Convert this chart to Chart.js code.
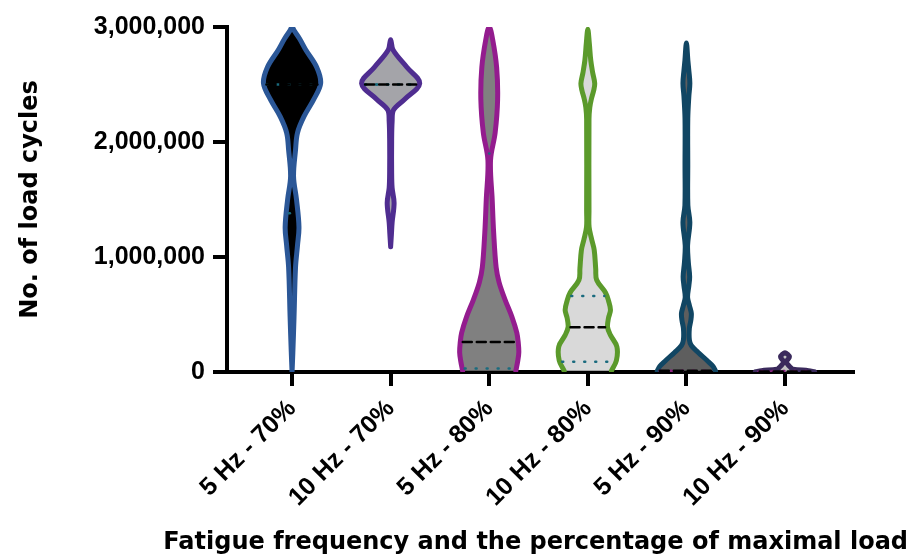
<!DOCTYPE html>
<html>
<head>
<meta charset="utf-8">
<script src="https://cdn.jsdelivr.net/npm/chart.js@4.4.1/dist/chart.umd.min.js"></script>
<style>
  html, body { margin: 0; padding: 0; background: #fff; }
  #wrap { width: 918px; height: 560px; }
</style>
</head>
<body>
<div id="wrap"><canvas id="chart" width="918" height="560"></canvas></div>
<script>
// categories and axis ticks
const categories = ["5 Hz - 70%", "10 Hz - 70%", "5 Hz - 80%", "10 Hz - 80%", "5 Hz - 90%", "10 Hz - 90%"]
const yTicks = [0, 1000000, 2000000, 3000000]

// violin outlines: load cycles and half width (% of category spacing)
const v1Values = [0, 170000, 480000, 910000, 1100000, 1260000, 1500000, 1700000, 1930000, 2080000, 2220000, 2370000, 2510000, 2650000, 2800000, 2900000, 2970000, 3000000]
const v1Widths = [0, 0.8, 2, 3.5, 5.5, 7, 4.5, 1.5, 3.5, 5.5, 12, 22, 29, 25, 14, 7.5, 2, 0]

const v2Values = [1090000, 1200000, 1300000, 1470000, 1600000, 1750000, 2000000, 2180000, 2280000, 2370000, 2510000, 2650000, 2800000, 2890000]
const v2Widths = [0, 0.8, 1.5, 3.5, 1.5, 1, 1, 1.5, 3, 14, 29.5, 16.5, 2.5, 0]

const v3Values = [10000, 100000, 170000, 250000, 340000, 480000, 630000, 780000, 910000, 1210000, 1500000, 1840000, 2080000, 2370000, 2650000, 2890000, 3000000]
const v3Widths = [27, 29, 30, 29.5, 28, 23, 16, 10, 7, 4.5, 3, 1.3, 6, 8.5, 7.5, 3.5, 0]

const v4Values = [10000, 100000, 220000, 320000, 390000, 470000, 540000, 620000, 690000, 800000, 900000, 1060000, 1150000, 1260000, 1400000, 2200000, 2300000, 2370000, 2450000, 2510000, 2600000, 2710000, 2860000, 2980000]
const v4Widths = [24, 29, 29.5, 23, 20, 21, 23, 21, 18, 9, 8, 6.5, 4, 1.3, 1.2, 1.2, 2, 3.5, 6, 7, 5, 3, 1.5, 0]

const v5Values = [10000, 50000, 100000, 170000, 230000, 280000, 380000, 450000, 510000, 580000, 650000, 750000, 830000, 950000, 1100000, 1300000, 1450000, 1800000, 2200000, 2400000, 2510000, 2620000, 2710000, 2860000]
const v5Widths = [29.5, 27, 21, 12, 5, 3, 3, 4.5, 5, 3, 1.2, 2.5, 3.3, 2, 1.2, 3.5, 1.5, 1.4, 1.4, 2.5, 3.5, 2.5, 1.5, 0]

const v6Values = [2000, 12000, 25000, 46000, 70000, 90000, 110000, 133000, 155000, 168000]
const v6Widths = [30, 24, 8, 5, 2.5, 1, 3, 4.5, 2.5, 0]

// summary lines
const medians = [2500000, 2500000, 260000, 390000, 10000, 5000]
const lowerQuartiles = [1380000, 2500000, 30000, 90000, 5000, 3000]
const upperQuartiles = [2500000, 2500000, 1900000, 660000, 10000, 8000]

const violins = [
  [v1Values, v1Widths], [v2Values, v2Widths], [v3Values, v3Widths],
  [v4Values, v4Widths], [v5Values, v5Widths], [v6Values, v6Widths]
]
const fills = ["#000000", "#a4a4a9", "#808080", "#d9d9d9", "#5e5e5e", "#c4c4c4"]
const strokes = ["#2b5797", "#4f2d90", "#931c8e", "#5b9a2b", "#114663", "#3a2a5c"]
const dotColors = ["#1a6b7e", "#1a6b7e", "#1a6b7e", "#1a6b7e", "#8b1f7f", "#8b1f7f"]

function outline(i, vals, widths) {
  const pts = []
  for (let k = 0; k < vals.length; k++) pts.push({ x: i + widths[k] / 100, y: vals[k] })
  for (let k = vals.length - 2; k >= 0; k--) pts.push({ x: i - widths[k] / 100, y: vals[k] })
  return pts
}

function widthAt(vals, widths, v) {
  if (v <= vals[0]) return widths[0]
  for (let k = 1; k < vals.length; k++) {
    if (v <= vals[k]) {
      const t = (v - vals[k - 1]) / (vals[k] - vals[k - 1])
      return widths[k - 1] + t * (widths[k] - widths[k - 1])
    }
  }
  return 0
}

function hLine(i, v, color, dash, lw) {
  const [vals, widths] = violins[i]
  const w = Math.max(widthAt(vals, widths, v) - 2.5, 0) / 100
  return {
    data: [{ x: i - w, y: v }, { x: i + w, y: v }],
    showLine: true, borderColor: color, borderWidth: lw, borderDash: dash,
    borderCapStyle: "round", pointRadius: 0, fill: false, order: 1
  }
}

const datasets = []
violins.forEach(([vals, widths], i) => {
  datasets.push({
    data: outline(i, vals, widths),
    showLine: true,
    fill: "shape",
    backgroundColor: fills[i],
    borderColor: strokes[i],
    borderWidth: 5,
    borderJoinStyle: "round",
    borderCapStyle: "round",
    tension: 0.35,
    pointRadius: 0,
    order: 2
  })
})
categories.forEach((c, i) => {
  datasets.push(hLine(i, medians[i], "#000000", [9, 5], 2.5))
  datasets.push(hLine(i, lowerQuartiles[i], dotColors[i], [1, 10], 2.5))
  datasets.push(hLine(i, upperQuartiles[i], dotColors[i], [1, 10], 2.5))
})

const fmt = (v) => String(v).replace(/\B(?=(\d{3})+(?!\d))/g, ",")
const tickFont = { family: "'Liberation Sans', Arial, sans-serif", size: 25, weight: "bold" }
const titleFont = { family: "'DejaVu Sans', 'Liberation Sans', sans-serif", size: 24, weight: "bold" }

new Chart(document.getElementById("chart"), {
  type: "scatter",
  data: { datasets: datasets },
  options: {
    responsive: false,
    animation: false,
    devicePixelRatio: 1,
    layout: { padding: { left: 12, right: 10, top: 27, bottom: 0 } },
    plugins: {
      legend: { display: false },
      tooltip: { enabled: false },
      // x axis title: wider than the plot, so it goes in the chart title box
      title: {
        display: true,
        position: "bottom",
        align: "end",
        text: "Fatigue frequency and the percentage of maximal load",
        color: "#000",
        font: titleFont,
        padding: { top: 0, bottom: 3 }
      }
    },
    scales: {
      x: {
        type: "linear",
        min: -0.66,
        max: 5.69,
        afterBuildTicks: (s) => { s.ticks = categories.map((_, i) => ({ value: i })) },
        afterFit: (s) => { s.height = 156.2 },
        ticks: {
          autoSkip: false,
          minRotation: 45,
          maxRotation: 45,
          padding: 8,
          color: "#000",
          font: tickFont,
          callback: (v) => categories[v]
        },
        grid: { drawOnChartArea: false, color: "#000", lineWidth: 4, tickLength: 14 },
        border: { color: "#000", width: 4 }
      },
      y: {
        min: 0,
        max: 3000000,
        afterBuildTicks: (s) => { s.ticks = yTicks.map((v) => ({ value: v })) },
        afterFit: (s) => { s.width = 215 },
        ticks: { color: "#000", font: tickFont, padding: 8, callback: (v) => fmt(v) },
        grid: { drawOnChartArea: false, color: "#000", lineWidth: 4, tickLength: 14 },
        border: { color: "#000", width: 4 },
        title: {
          display: true,
          text: "No. of load cycles",
          color: "#000",
          font: titleFont,
          padding: { top: 4, bottom: 4 }
        }
      },
      // empty right-hand spacer so the plot ends where the reference does
      spacer: {
        type: "linear",
        position: "right",
        afterFit: (s) => { s.width = 55 },
        ticks: { display: false },
        grid: { display: false },
        border: { display: false }
      }
    }
  }
})
</script>
</body>
</html>
